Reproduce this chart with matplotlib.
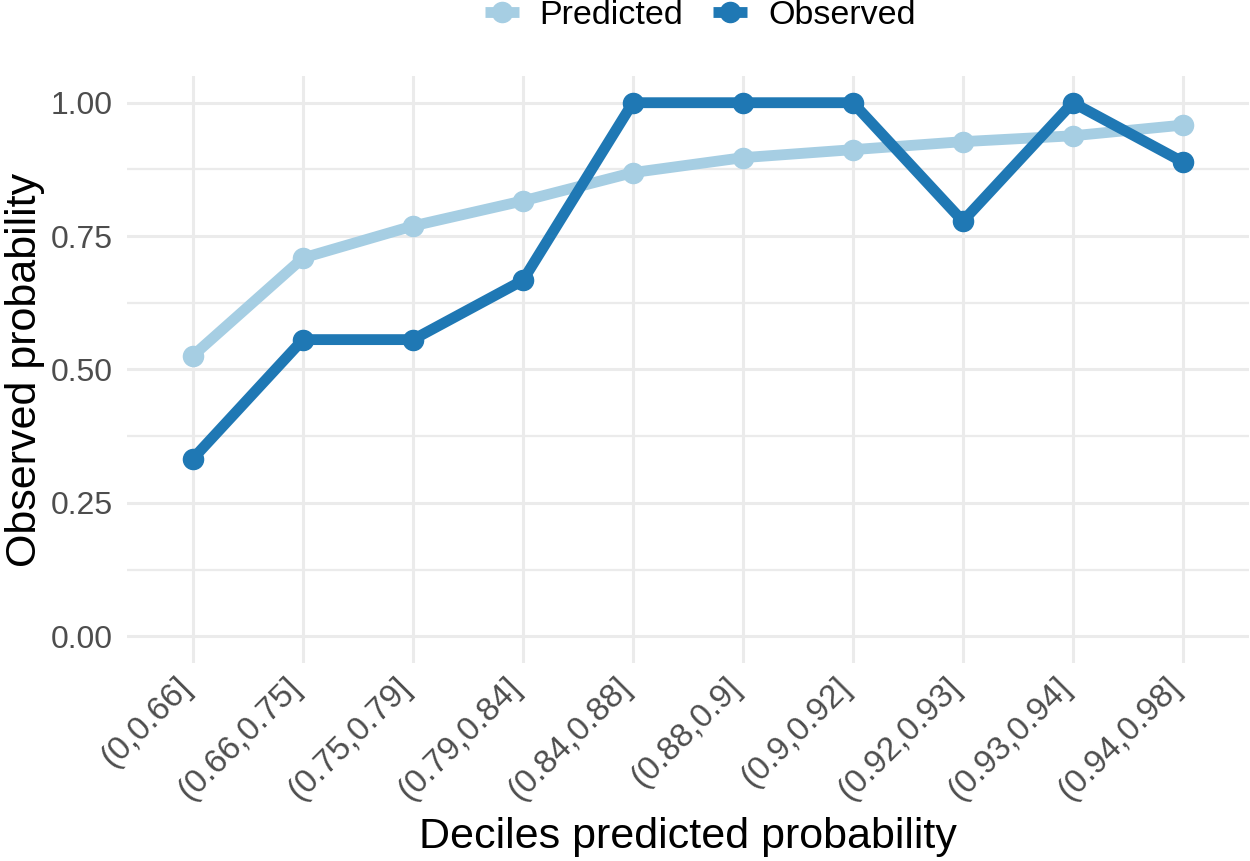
"""
Calibration plot: observed vs predicted probability by decile of predicted probability.
"""

import matplotlib
matplotlib.use("Agg")
import matplotlib.pyplot as plt
from matplotlib.ticker import MultipleLocator
from matplotlib.transforms import ScaledTranslation

# ---------------------------------------------------------------------------
# Data
# ---------------------------------------------------------------------------

DECILES = [
    "(0,0.66]", "(0.66,0.75]", "(0.75,0.79]", "(0.79,0.84]", "(0.84,0.88]",
    "(0.88,0.9]", "(0.9,0.92]", "(0.92,0.93]", "(0.93,0.94]", "(0.94,0.98]",
]
PREDICTED = [0.526, 0.709, 0.769, 0.816, 0.869, 0.897, 0.912, 0.927, 0.938, 0.958]
OBSERVED = [0.333, 0.556, 0.556, 0.667, 1.0, 1.0, 1.0, 0.778, 1.0, 0.889]

Y_TICKS = [0.0, 0.25, 0.5, 0.75, 1.0]

COLOR_PRED = "#A6CEE3"
COLOR_OBS = "#1F78B4"
GRID_COLOR = "#EBEBEB"
TICK_COLOR = "#4D4D4D"

plt.rcParams["font.family"] = ["Liberation Sans", "DejaVu Sans"]

fig = plt.figure(figsize=(12.5, 8.61), dpi=100)
ax = fig.add_axes([0.1016, 0.230, 0.8974, 0.6817])

x = list(range(1, len(DECILES) + 1))
ax.plot(x, PREDICTED, color=COLOR_PRED, lw=7.8, marker="o", ms=14.5,
        label="Predicted", solid_capstyle="butt", zorder=3)
ax.plot(x, OBSERVED, color=COLOR_OBS, lw=7.8, marker="o", ms=14.5,
        label="Observed", solid_capstyle="butt", zorder=4)

ax.set_xlim(0.4, len(DECILES) + 0.6)
ax.set_ylim(-0.05, 1.05)
ax.set_xticks(x)
ax.set_xticklabels(DECILES, rotation=45, ha="right", va="top",
                   rotation_mode="anchor")
ax.set_yticks(Y_TICKS)
ax.set_yticklabels([f"{v:.2f}" for v in Y_TICKS])
ax.yaxis.set_minor_locator(MultipleLocator(0.125))

# theme_minimal-like styling
for spine in ax.spines.values():
    spine.set_visible(False)
ax.grid(True, which="major", color=GRID_COLOR, lw=2.2, zorder=0)
ax.grid(True, which="minor", axis="y", color=GRID_COLOR, lw=1.6, zorder=0)
ax.set_axisbelow(True)
ax.tick_params(axis="both", which="both", length=0, labelsize=23,
               labelcolor=TICK_COLOR)
ax.tick_params(axis="y", pad=10)
ax.tick_params(axis="x", labelsize=24, pad=6)

# shift rotated x labels a bit left (ggplot hjust=1 placement)
offset = ScaledTranslation(-17 / 100, 0, fig.dpi_scale_trans)
for label in ax.get_xticklabels():
    label.set_transform(label.get_transform() + offset)

ax.set_xlabel("Deciles predicted probability", fontsize=31, labelpad=8)
ax.set_ylabel("Observed probability", fontsize=31, labelpad=4)

fig.legend(loc="center", bbox_to_anchor=(0.56, 0.982), ncol=2, frameon=False,
           fontsize=24.5, handlelength=1.0, columnspacing=0.9,
           handletextpad=0.6)

fig.savefig("out.png", dpi=100)
plt.close(fig)
